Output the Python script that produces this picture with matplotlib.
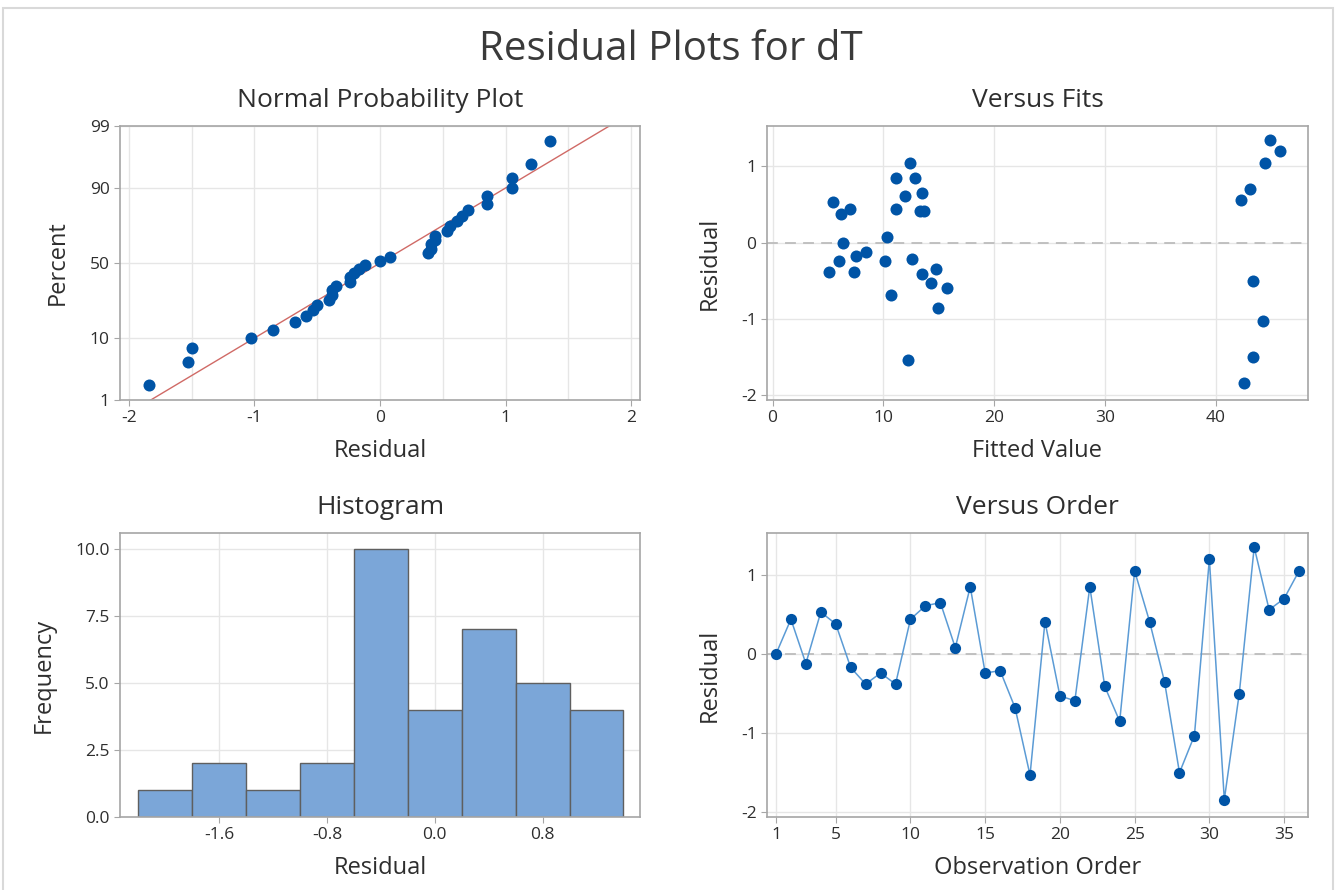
import numpy as np
import matplotlib
matplotlib.use("Agg")
import matplotlib.pyplot as plt
from matplotlib.patches import Rectangle
from matplotlib.ticker import MultipleLocator
from statistics import NormalDist

plt.rcParams['font.family'] = ['Open Sans', 'DejaVu Sans']
plt.rcParams['axes.unicode_minus'] = False

# residuals in observation order
resid = [0.00, 0.44, -0.12, 0.53, 0.38, -0.17, -0.38, -0.24, -0.38, 0.44,
         0.61, 0.65, 0.08, 0.85, -0.24, -0.21, -0.68, -1.53, 0.41, -0.53,
         -0.59, 0.85, -0.41, -0.85, 1.05, 0.41, -0.35, -1.50, -1.03, 1.20,
         -1.84, -0.50, 1.35, 0.56, 0.70, 1.05]
# fitted values, same order
fits = [6.33, 6.98, 8.40, 5.49, 6.14, 7.56, 7.37, 5.95, 5.10, 11.15,
        11.99, 13.44, 10.34, 11.15, 10.11, 12.60, 10.69, 12.21, 13.28, 14.28,
        15.77, 12.83, 13.44, 14.96, 12.41, 13.67, 14.70, 43.36, 44.20, 45.75,
        42.52, 43.36, 44.90, 42.29, 43.04, 44.43]
order = list(range(1, len(resid) + 1))
pct_ticks = [1, 10, 50, 90, 99]
hist_edges = [-2.2, -1.8, -1.4, -1.0, -0.6, -0.2, 0.2, 0.6, 1.0, 1.4]

dot = '#0054A6'
txt = '#2e2e2e'
grid_c = '#e6e6e6'
spine_c = '#a6a6a6'
TS, LS, KS = 19, 17, 12.5

W, H = 1341, 890
fig = plt.figure(figsize=(W / 100, H / 100), dpi=100)
fig.patch.set_facecolor('white')


def box(l, t, r, b):
    return [l / W, 1 - b / H, (r - l) / W, (b - t) / H]


def style(ax):
    for s in ax.spines.values():
        s.set_color(spine_c)
        s.set_linewidth(1.2)
    ax.tick_params(colors=spine_c, labelcolor=txt, labelsize=KS, length=4)
    ax.grid(True, color=grid_c, lw=1)
    ax.set_axisbelow(True)


def labels(ax, title, xl, yl, ypad):
    ax.set_title(title, fontsize=TS, color=txt, pad=14)
    ax.set_xlabel(xl, fontsize=LS, color=txt, labelpad=9)
    ax.set_ylabel(yl, fontsize=LS, color=txt, labelpad=ypad)


ax1 = fig.add_axes(box(120, 126, 640, 400))
ax2 = fig.add_axes(box(767, 126, 1308, 400))
ax3 = fig.add_axes(box(120, 533, 640, 817))
ax4 = fig.add_axes(box(767, 533, 1308, 817))
for a in (ax1, ax2, ax3, ax4):
    style(a)

# normal probability plot
nd = NormalDist()
r = np.array(resid)
n = len(r)
srt = np.sort(r)
z = np.array([nd.inv_cdf((i - 0.3) / (n + 0.4)) for i in range(1, n + 1)])
mu, sd = r.mean(), r.std(ddof=1)
zl = np.array([-3.0, 3.0])
ax1.plot(mu + sd * zl, zl, color='#D06A66', lw=1, zorder=2)
ax1.scatter(srt, z, s=75, color=dot, zorder=3, linewidths=0)
zmax = nd.inv_cdf(0.99)
ax1.set_ylim(-zmax, zmax)
ax1.set_xlim(-2.07, 2.07)
ax1.set_yticks([nd.inv_cdf(p / 100) for p in pct_ticks])
ax1.set_yticklabels([str(p) for p in pct_ticks])
ax1.set_xticks([-2, -1, 0, 1, 2])
ax1.xaxis.set_minor_locator(MultipleLocator(0.5))
ax1.tick_params(axis='x', which='minor', length=0)
ax1.grid(True, which='minor', axis='x', color=grid_c, lw=1)
labels(ax1, 'Normal Probability Plot', 'Residual', 'Percent', 14)

# versus fits
ax2.axhline(0, color='#bdbdbd', lw=1.3, ls=(0, (6, 4)), zorder=1)
ax2.scatter(fits, resid, s=75, color=dot, zorder=3, linewidths=0)
ax2.set_xlim(-0.5, 48.3)
ax2.set_ylim(-2.06, 1.53)
ax2.set_xticks([0, 10, 20, 30, 40])
ax2.set_yticks([-2, -1, 0, 1])
labels(ax2, 'Versus Fits', 'Fitted Value', 'Residual', 14)

# histogram
ax3.hist(resid, bins=hist_edges, color='#7BA6D8', edgecolor='#5f5f5f', lw=1, zorder=2)
ax3.set_xlim(-2.335, 1.523)
ax3.set_ylim(0, 10.58)
ax3.set_xticks([-1.6, -0.8, 0.0, 0.8])
ax3.set_xticklabels(['-1.6', '-0.8', '0.0', '0.8'])
ax3.set_yticks([0, 2.5, 5, 7.5, 10])
ax3.set_yticklabels(['0.0', '2.5', '5.0', '7.5', '10.0'])
labels(ax3, 'Histogram', 'Residual', 'Frequency', 14)

# versus order
ax4.axhline(0, color='#bdbdbd', lw=1.3, ls=(0, (6, 4)), zorder=1)
ax4.plot(order, resid, color='#5B9BD5', lw=1.1, zorder=2)
ax4.scatter(order, resid, s=65, color=dot, zorder=3, linewidths=0)
ax4.set_xlim(0.4, 36.6)
ax4.set_ylim(-2.06, 1.53)
ax4.set_xticks([1, 5, 10, 15, 20, 25, 30, 35])
ax4.set_yticks([-2, -1, 0, 1])
labels(ax4, 'Versus Order', 'Observation Order', 'Residual', 14)

fig.text(0.5, 1 - 50 / H, 'Residual Plots for dT', ha='center', va='center',
         fontsize=29, color='#3a3a3a')

fig.patches.append(Rectangle((3 / W, -0.02), 1330 / W, (H - 8) / H + 0.02,
                             transform=fig.transFigure, fill=False,
                             edgecolor='#d9d9d9', lw=1.5))

fig.savefig('out.png', dpi=100)
